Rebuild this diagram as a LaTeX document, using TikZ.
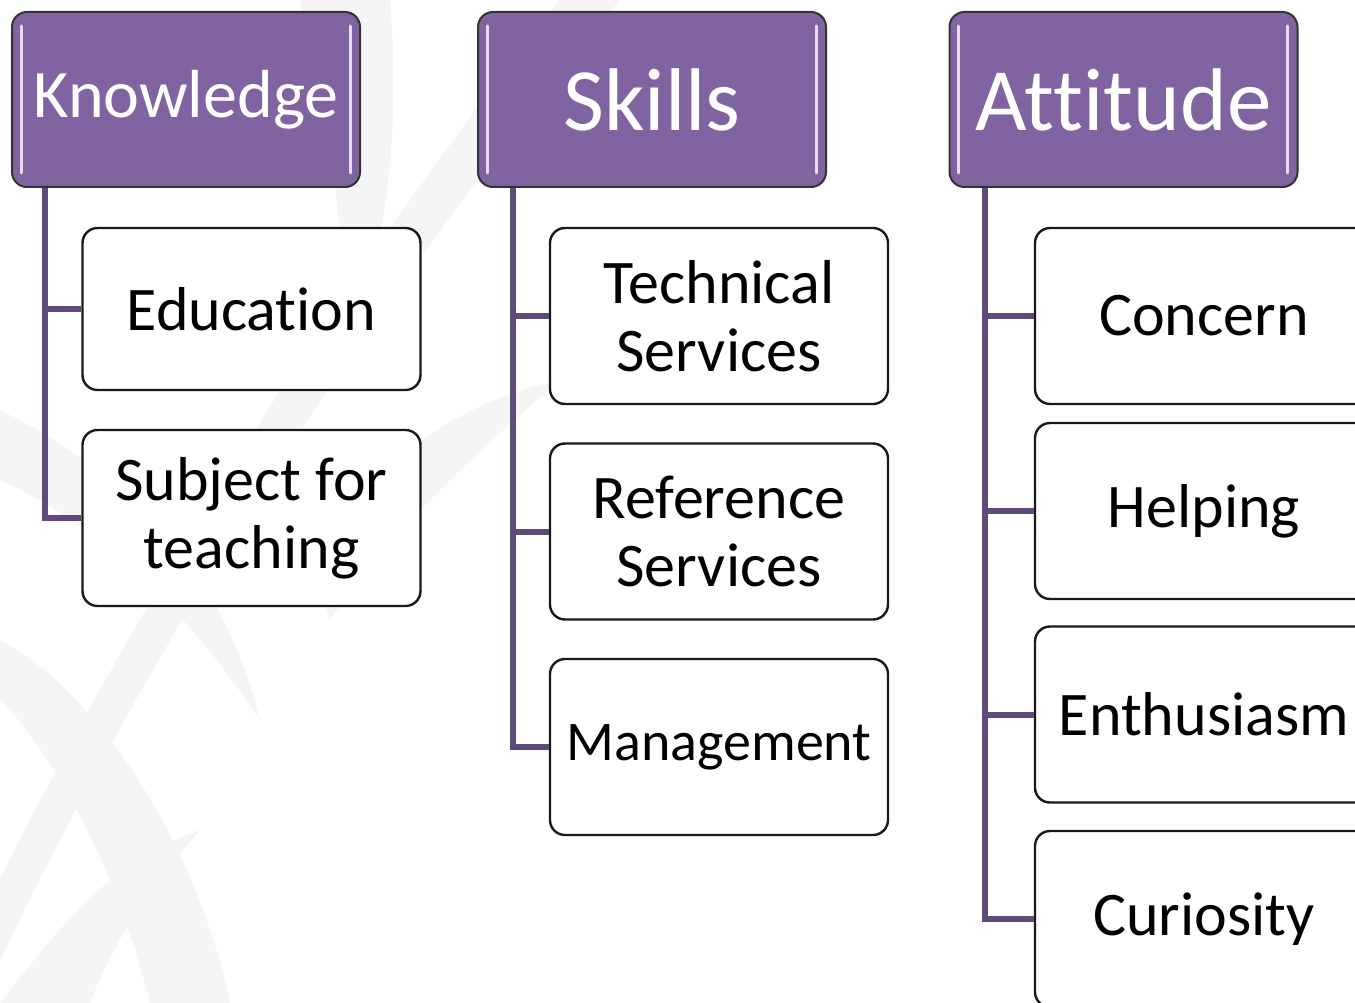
\documentclass[tikz,border=0pt]{standalone}
\usepackage{fontspec}
\setmainfont{Carlito}[Ligatures=NoCommon]
\usetikzlibrary{calc}
\definecolor{hdrfill}{HTML}{8064A2}
\definecolor{linkc}{HTML}{604A7B}
\definecolor{wmark}{HTML}{F5F5F5}
\definecolor{hilite}{HTML}{E6DDF2}
\tikzset{
  hdrbox/.style={draw=black!80, line width=2pt, fill=hdrfill, rounded corners=15pt,
    minimum width=348pt, minimum height=175pt, inner sep=0pt, text=white,
    font=\fontsize{68}{75}\selectfont},
  bighdr/.style={font=\fontsize{89}{98}\selectfont},
  kidbox/.style={draw=black!90, line width=2.4pt, fill=white, rounded corners=15pt,
    minimum width=338pt, minimum height=176pt, inner sep=0pt, align=center,
    font=\fontsize{62}{68}\selectfont},
  linkline/.style={draw=linkc, line width=6pt, line join=miter},
  hl/.style={draw=hilite, line width=3pt, line cap=round},
  leaf/.style={fill=wmark, draw=none}
}
\begin{document}
\begin{tikzpicture}[x=1pt,y=-1pt]
\useasboundingbox (0,0) rectangle (1355,1003);
\clip (0,0) rectangle (1355,1003);
% faint watermark leaves
\fill[leaf] (-20,1003) .. controls (120,700) and (330,350) .. (620,0) -- (560,0) .. controls (300,330) and (90,680) .. (-60,1003) -- cycle;
\fill[leaf] (0,410) .. controls (120,470) and (220,560) .. (260,720) .. controls (180,600) and (90,520) .. (0,480) -- cycle;
\fill[leaf] (0,640) .. controls (110,700) and (200,860) .. (230,1003) -- (150,1003) .. controls (120,880) and (60,760) .. (0,700) -- cycle;
\fill[leaf] (310,560) .. controls (380,450) and (470,400) .. (560,380) .. controls (480,450) and (400,520) .. (330,620) -- cycle;
\fill[leaf] (300,0) .. controls (330,120) and (350,250) .. (340,380) .. controls (390,250) and (400,120) .. (390,0) -- cycle;
\fill[leaf] (0,1003) .. controls (80,900) and (120,860) .. (200,830) .. controls (140,900) and (110,950) .. (90,1003) -- cycle;

% headers
\node[hdrbox] (kn) at (186,99.5) {Knowledge};
\node[hdrbox, bighdr] (sk) at (652,99.5) {Skills};
\node[hdrbox, bighdr] (at) at (1123.5,99.5) {Attitude};
\foreach \h in {kn,sk,at}{
  \draw[hl] ($(\h.north west)+(10,15)$) -- ($(\h.south west)+(10,-15)$);
  \draw[hl] ($(\h.north east)+(-11,15)$) -- ($(\h.south east)+(-11,-15)$);
}

% children
\node[kidbox, minimum height=162pt] (edu) at (251.5,309) {Education};
\node[kidbox] (sub) at (251.5,518) {Subject for\\teaching};
\node[kidbox] (tech) at (719,316) {Technical\\Services};
\node[kidbox] (ref) at (719,531.5) {Reference\\Services};
\node[kidbox, font=\fontsize{56}{62}\selectfont] (man) at (719,747) {Management};
\node[kidbox] (con) at (1204,316) {Concern};
\node[kidbox] (hel) at (1204,511) {Helping};
\node[kidbox] (ent) at (1204,714.5) {Enthusiasm};
\node[kidbox] (cur) at (1204,919) {Curiosity};

% connectors
\coordinate (kroot) at ($(kn.south west)+(34,0)$);
\coordinate (sroot) at ($(sk.south west)+(36,0)$);
\coordinate (aroot) at ($(at.south west)+(36,0)$);
\draw[linkline] (kroot) |- (sub.west);
\draw[linkline] (kroot |- edu.west) -- (edu.west);
\draw[linkline] (sroot) |- (man.west);
\draw[linkline] (sroot |- tech.west) -- (tech.west);
\draw[linkline] (sroot |- ref.west) -- (ref.west);
\draw[linkline] (aroot) |- (cur.west);
\draw[linkline] (aroot |- con.west) -- (con.west);
\draw[linkline] (aroot |- hel.west) -- (hel.west);
\draw[linkline] (aroot |- ent.west) -- (ent.west);
\end{tikzpicture}
\end{document}
